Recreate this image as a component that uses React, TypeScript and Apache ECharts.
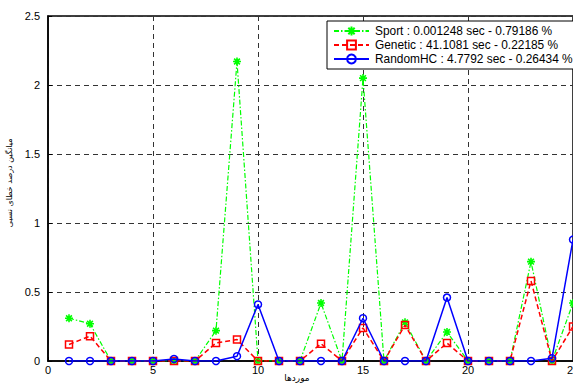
import React, { useEffect, useRef } from "react";
import * as echarts from "echarts";

// Test cases 1..25 on the x axis
const caseIds: number[] = Array.from({ length: 25 }, (_, i) => i + 1);

const sportName = "Sport : 0.001248 sec - 0.79186 %";
const geneticName = "Genetic : 41.1081 sec - 0.22185 %";
const randomName = "RandomHC : 4.7792 sec - 0.26434 %";

const sportValues: number[] = [
  0.31, 0.27, 0, 0, 0, 0, 0, 0.22, 2.17, 0, 0, 0, 0.42, 0, 2.05, 0, 0.28, 0,
  0.21, 0, 0, 0, 0.72, 0, 0.42,
];
const geneticValues: number[] = [
  0.12, 0.18, 0, 0, 0, 0, 0, 0.13, 0.155, 0, 0, 0, 0.125, 0, 0.24, 0, 0.26, 0,
  0.13, 0, 0, 0, 0.58, 0, 0.25,
];
const randomValues: number[] = [
  0, 0, 0, 0, 0, 0.015, 0, 0, 0.035, 0.41, 0, 0, 0, 0, 0.31, 0, 0, 0, 0.46, 0,
  0, 0, 0, 0.02, 0.88,
];

const xTicks = { min: 0, max: 25, interval: 5 };
const yTicks = { min: 0, max: 2.5, interval: 0.5 };

const xTitle = "موردها";
const yTitle = "میانگین درصد خطای نسبی";

const asterisk =
  "path://M0,-5L0,5M-5,0L5,0M-3.6,-3.6L3.6,3.6M-3.6,3.6L3.6,-3.6";

const pairs = (vals: number[]) => caseIds.map((c, i) => [c, vals[i]]);

export default function App() {
  const ref = useRef<HTMLDivElement>(null);

  useEffect(() => {
    if (!ref.current) return;
    const chart = echarts.init(ref.current, undefined, { renderer: "svg" });
    const font = "'Liberation Sans', Arial, sans-serif";
    const gridLine = { show: true, lineStyle: { color: "#333", width: 1, type: [5, 4] as any } };

    chart.setOption({
      animation: false,
      backgroundColor: "#fff",
      textStyle: { fontFamily: font },
      grid: {
        left: 48,
        top: 16,
        width: 525,
        height: 345,
        outerBoundsMode: "none",
        containLabel: false,
        show: true,
        borderColor: "#000",
        borderWidth: 1.5,
        backgroundColor: "#fff",
      },
      legend: {
        orient: "vertical",
        left: 327,
        top: 21,
        padding: [4, 7, 4, 6],
        itemGap: 2,
        itemWidth: 35,
        itemHeight: 11,
        backgroundColor: "#fff",
        borderColor: "#000",
        borderWidth: 1,
        borderRadius: 0,
        textStyle: { fontFamily: font, fontSize: 11.9, color: "#000", padding: [0, 0, 0, 1] },
        data: [sportName, geneticName, randomName],
      },
      xAxis: {
        type: "value",
        ...xTicks,
        axisLine: { show: true, onZero: false, lineStyle: { color: "#000", width: 1.5 } },
        axisTick: { show: true, inside: true, length: 4, lineStyle: { color: "#000" } },
        axisLabel: { color: "#000", fontSize: 11, fontFamily: font, margin: 3, showMaxLabel: true },
        splitLine: gridLine,
      },
      yAxis: {
        type: "value",
        ...yTicks,
        axisLine: { show: true, lineStyle: { color: "#000", width: 1.5 } },
        axisTick: { show: true, inside: true, length: 4, lineStyle: { color: "#000" } },
        axisLabel: { color: "#000", fontSize: 11, fontFamily: font, margin: 8 },
        splitLine: gridLine,
      },
      graphic: [
        {
          type: "text",
          x: 297,
          y: 378,
          style: {
            text: xTitle,
            fontFamily: "'DejaVu Sans', sans-serif",
            fontSize: 9,
            fill: "#000",
            align: "center",
            verticalAlign: "middle",
          },
        },
        {
          type: "text",
          x: 9,
          y: 183,
          rotation: Math.PI / 2,
          style: {
            text: yTitle,
            fontFamily: "'DejaVu Sans', sans-serif",
            fontSize: 8,
            fill: "#000",
            align: "center",
            verticalAlign: "middle",
          },
        },
      ],
      series: [
        {
          name: sportName,
          type: "line",
          data: pairs(sportValues),
          symbol: asterisk,
          symbolSize: 8,
          lineStyle: { color: "#00ff00", width: 1.2, type: [5, 2, 1.5, 2] as any },
          itemStyle: { color: "#00ff00", borderColor: "#00ff00", borderWidth: 1.6 },
          z: 2,
        },
        {
          name: geneticName,
          type: "line",
          data: pairs(geneticValues),
          symbol: "rect",
          symbolSize: 7,
          lineStyle: { color: "#ff0000", width: 1.5, type: [5, 3] as any },
          itemStyle: { color: "rgba(0,0,0,0)", borderColor: "#ff0000", borderWidth: 1.5 },
          z: 3,
        },
        {
          name: randomName,
          type: "line",
          data: pairs(randomValues),
          symbol: "circle",
          symbolSize: 7,
          lineStyle: { color: "#0000ff", width: 1.5, type: "solid" },
          itemStyle: { color: "rgba(0,0,0,0)", borderColor: "#0000ff", borderWidth: 1.5 },
          z: 4,
        },
      ],
    });

    return () => chart.dispose();
  }, []);

  return (
    <div
      ref={ref}
      style={{ position: "fixed", left: 0, top: 0, width: 573, height: 386, background: "#fff" }}
    />
  );
}
